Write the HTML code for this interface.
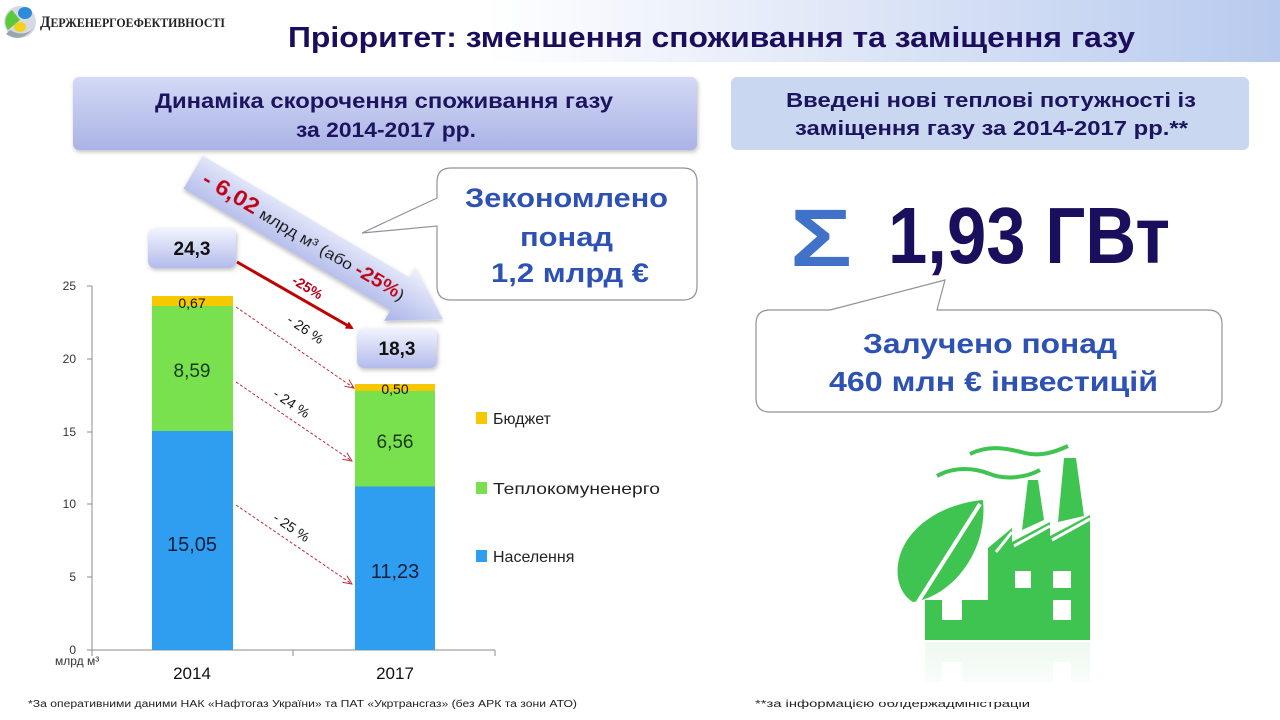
<!DOCTYPE html>
<html><head><meta charset="utf-8"><style>
html,body{margin:0;padding:0;background:#fff;}
svg{display:block;}
text{font-family:"Liberation Sans","DejaVu Sans",sans-serif;}
</style></head><body>
<svg width="1280" height="720" viewBox="0 0 1280 720" xmlns="http://www.w3.org/2000/svg">
<defs>
<linearGradient id="hdr" x1="0" y1="0" x2="1" y2="0">
<stop offset="0" stop-color="#ffffff"/><stop offset="0.38" stop-color="#ffffff"/><stop offset="1" stop-color="#b8caee"/>
</linearGradient>
<linearGradient id="lbox" x1="0" y1="0" x2="0" y2="1">
<stop offset="0" stop-color="#d3d9f5"/><stop offset="1" stop-color="#aab3e6"/>
</linearGradient>
<linearGradient id="vbox" x1="0" y1="0" x2="0" y2="1">
<stop offset="0" stop-color="#f2f4fd"/><stop offset="1" stop-color="#b3bbec"/>
</linearGradient>
<linearGradient id="arr" x1="0" y1="0" x2="0" y2="1">
<stop offset="0" stop-color="#eef1fc"/><stop offset="1" stop-color="#aab3e8"/>
</linearGradient>
<linearGradient id="refl" x1="0" y1="0" x2="0" y2="1">
<stop offset="0" stop-color="#ffffff" stop-opacity="0.55"/><stop offset="1" stop-color="#ffffff" stop-opacity="1"/>
</linearGradient>
<filter id="sh" x="-10%" y="-10%" width="120%" height="130%"><feDropShadow dx="1" dy="2" stdDeviation="2" flood-color="#000" flood-opacity="0.25"/></filter>
<marker id="mr" markerWidth="8" markerHeight="8" refX="6" refY="4" orient="auto" markerUnits="userSpaceOnUse"><path d="M0,0 L8,4 L0,8 z" fill="#c00000"/></marker>
<marker id="md" markerWidth="10" markerHeight="10" refX="9" refY="5" orient="auto" markerUnits="userSpaceOnUse"><path d="M0,1 L9,5 L0,9" fill="none" stroke="#c0303a" stroke-width="1"/></marker>
</defs>

<!-- header band -->
<rect x="0" y="0" width="1280" height="62" fill="url(#hdr)"/>
<!-- logo -->
<circle cx="20" cy="22" r="16" fill="#d5dbe0"/>
<path d="M8,30 A14,14 0 0 1 12,10 L20,20 Z" fill="#5cc83c"/>
<ellipse cx="25" cy="13" rx="7" ry="6" fill="#2f8ad8"/>
<ellipse cx="20" cy="27" rx="6" ry="5" fill="#f2d21a"/>
<path d="M6,34 Q20,44 34,28 Q24,38 10,30 Z" fill="#9aa6ae"/>
<text x="40" y="27" style="font-family:'Liberation Serif','DejaVu Serif',serif;font-weight:bold" fill="#222" font-size="16" textLength="185" lengthAdjust="spacingAndGlyphs">Д<tspan font-size="12.5">ЕРЖЕНЕРГОЕФЕКТИВНОСТІ</tspan></text>

<text x="288" y="47" font-size="29" font-weight="bold" fill="#1b0d5c" textLength="847" lengthAdjust="spacingAndGlyphs">Пріоритет: зменшення споживання та заміщення газу</text>

<!-- left header box -->
<rect x="73" y="77" width="624" height="73" rx="6" fill="url(#lbox)" filter="url(#sh)"/>
<text x="155" y="108" font-size="21" font-weight="bold" fill="#1d1460" textLength="458" lengthAdjust="spacingAndGlyphs">Динаміка скорочення споживання газу</text>
<text x="296" y="137" font-size="21" font-weight="bold" fill="#1d1460" textLength="180" lengthAdjust="spacingAndGlyphs">за 2014-2017  рр.</text>

<!-- right header box -->
<rect x="731" y="77" width="518" height="73" rx="6" fill="#c9d8f0"/>
<text x="786" y="107" font-size="20" font-weight="bold" fill="#1d1460" textLength="410" lengthAdjust="spacingAndGlyphs">Введені нові теплові потужності із</text>
<text x="795" y="135" font-size="20" font-weight="bold" fill="#1d1460" textLength="393" lengthAdjust="spacingAndGlyphs">заміщення газу за 2014-2017  рр.**</text>

<!-- sigma + value -->
<text x="790" y="266" font-size="82" font-weight="bold" fill="#3f72c8" textLength="62" lengthAdjust="spacingAndGlyphs">Σ</text>
<text x="888" y="263" font-size="80" font-weight="bold" fill="#1a0f5c" textLength="282" lengthAdjust="spacingAndGlyphs">1,93 ГВт</text>

<!-- right callout -->
<path d="M770,310 L830,310 L945,280 L937,310 L1208,310 Q1222,310 1222,324 L1222,398 Q1222,412 1208,412 L770,412 Q756,412 756,398 L756,324 Q756,310 770,310 Z" fill="#fff" stroke="#8e939c" stroke-width="1.2"/>
<text x="863" y="353" font-size="28" font-weight="bold" fill="#2d52b3" textLength="254" lengthAdjust="spacingAndGlyphs">Залучено понад</text>
<text x="829" y="391" font-size="28" font-weight="bold" fill="#2d52b3" textLength="329" lengthAdjust="spacingAndGlyphs">460 млн € інвестицій</text>

<!-- left callout -->
<path d="M451,168 L683,168 Q697,168 697,182 L697,286 Q697,300 683,300 L451,300 Q437,300 437,286 L437,226 L362,233 L437,198 L437,182 Q437,168 451,168 Z" fill="#fff" stroke="#8e939c" stroke-width="1.2"/>
<text x="465" y="207" font-size="27" font-weight="bold" fill="#2d52b3" textLength="203" lengthAdjust="spacingAndGlyphs">Зекономлено</text>
<text x="520" y="246" font-size="27" font-weight="bold" fill="#2d52b3" textLength="93" lengthAdjust="spacingAndGlyphs">понад</text>
<text x="491" y="282" font-size="27" font-weight="bold" fill="#2d52b3" textLength="158" lengthAdjust="spacingAndGlyphs">1,2 млрд €</text>

<!-- big diagonal arrow -->
<g transform="translate(400,294) rotate(30.5)" filter="url(#sh)">
<path d="M-240,-19 L0,-19 L0,-31 L50,0 L0,31 L0,19 L-240,19 Z" fill="url(#arr)"/>
<text x="-228" y="6" font-size="16" fill="#111" textLength="232" lengthAdjust="spacingAndGlyphs"><tspan fill="#c00018" font-weight="bold" font-size="22">- 6,02</tspan> млрд м³ (або <tspan fill="#c00018" font-weight="bold" font-size="19">-25%</tspan>)</text>
</g>

<!-- value boxes -->
<rect x="148" y="228" width="88" height="40" rx="7" fill="url(#vbox)" filter="url(#sh)"/>
<text x="192" y="255" font-size="19" font-weight="bold" fill="#111" text-anchor="middle">24,3</text>
<rect x="357" y="328" width="80" height="40" rx="7" fill="url(#vbox)" filter="url(#sh)"/>
<text x="397" y="355" font-size="19" font-weight="bold" fill="#111" text-anchor="middle">18,3</text>

<!-- red solid arrow -->
<line x1="237" y1="262" x2="352" y2="328" stroke="#c00000" stroke-width="3" marker-end="url(#mr)"/>
<text transform="translate(291,283) rotate(31)" font-size="14" font-weight="bold" fill="#c00018">-25%</text>

<!-- axes -->
<line x1="92" y1="286" x2="92" y2="650" stroke="#8c8c8c" stroke-width="1"/>
<g stroke="#8c8c8c" stroke-width="1">
<line x1="87" y1="286" x2="92" y2="286"/><line x1="87" y1="359" x2="92" y2="359"/><line x1="87" y1="432" x2="92" y2="432"/><line x1="87" y1="504" x2="92" y2="504"/><line x1="87" y1="577" x2="92" y2="577"/><line x1="87" y1="650" x2="92" y2="650"/>
<line x1="92" y1="650" x2="495" y2="650"/>
<line x1="92" y1="650" x2="92" y2="656"/><line x1="293" y1="650" x2="293" y2="656"/><line x1="495" y1="650" x2="495" y2="656"/>
</g>
<g font-size="12" fill="#333" text-anchor="end">
<text x="76" y="290">25</text><text x="76" y="363">20</text><text x="76" y="436">15</text><text x="76" y="508">10</text><text x="76" y="581">5</text><text x="76" y="654">0</text>
</g>

<!-- bars -->
<rect x="152" y="431" width="81" height="219" fill="#2f9df0"/>
<rect x="152" y="306" width="81" height="125" fill="#79e04e"/>
<rect x="152" y="296" width="81" height="10" fill="#f5c800"/>
<rect x="355" y="486.5" width="80" height="163.5" fill="#2f9df0"/>
<rect x="355" y="391" width="80" height="95.5" fill="#79e04e"/>
<rect x="355" y="384" width="80" height="7" fill="#f5c800"/>

<g text-anchor="middle" fill="#111">
<text x="192" y="308" font-size="14">0,67</text>
<text x="192" y="377" font-size="19" fill="#1a3a1a">8,59</text>
<text x="192" y="551" font-size="20" fill="#0f1f3a">15,05</text>
<text x="395" y="394" font-size="14">0,50</text>
<text x="395" y="448" font-size="19" fill="#1a3a1a">6,56</text>
<text x="395" y="578" font-size="20" fill="#0f1f3a">11,23</text>
</g>

<!-- dashed arrows -->
<g stroke="#c0303a" stroke-width="1" stroke-dasharray="3,2" fill="none">
<line x1="236" y1="307" x2="354" y2="388" marker-end="url(#md)"/>
<line x1="236" y1="382" x2="352" y2="461" marker-end="url(#md)"/>
<line x1="236" y1="505" x2="352" y2="584" marker-end="url(#md)"/>
</g>
<g font-size="14" fill="#111">
<text transform="translate(286,322) rotate(34)">- 26 %</text>
<text transform="translate(272,396) rotate(34)">- 24 %</text>
<text transform="translate(272,520) rotate(34)">- 25 %</text>
</g>

<!-- legend -->
<rect x="476" y="412" width="11" height="12" fill="#f5c800"/>
<rect x="476" y="482" width="11" height="12" fill="#79e04e"/>
<rect x="476" y="550" width="11" height="12" fill="#2f9df0"/>
<g font-size="16" fill="#222">
<text x="493" y="424">Бюджет</text>
<text x="493" y="494" textLength="167" lengthAdjust="spacingAndGlyphs">Теплокомуненерго</text>
<text x="493" y="562">Населення</text>
</g>

<!-- x labels -->
<text x="55" y="665" font-size="12" fill="#333">млрд м³</text>
<text x="192" y="679" font-size="17" fill="#111" text-anchor="middle">2014</text>
<text x="395" y="679" font-size="17" fill="#111" text-anchor="middle">2017</text>

<!-- footnotes -->
<text x="28" y="707" font-size="10" fill="#222" textLength="549" lengthAdjust="spacingAndGlyphs">*За оперативними даними НАК «Нафтогаз України»  та ПАТ «Укртрансгаз» (без АРК та зони АТО)</text>
<text x="755" y="707" font-size="10" fill="#222" textLength="275" lengthAdjust="spacingAndGlyphs">**за інформацією облдержадміністрацій</text>

<!-- factory icon -->
<g id="fac">
<g fill="#3fc452">
<path d="M925,640 L925,600 L988,600 L988,548 L1012,528 L1012,542 L1050,522 L1050,536 L1090,515 L1090,640 Z"/>
<path d="M1022,530 L1028,480 L1038,480 L1044,520 Z"/>
<path d="M1058,522 L1064,458 L1076,458 L1084,516 Z"/>
<path d="M983,500 C930,505 893,540 898,578 C900,590 906,598 913,602 C952,596 988,552 983,500 Z"/>
</g>
<g fill="#fff">
<rect x="1015" y="571" width="16" height="17"/>
<rect x="1053" y="571" width="18" height="17"/>
<rect x="942" y="600" width="20" height="20"/>
<rect x="1053" y="600" width="18" height="20"/>
</g>
<line x1="980" y1="504" x2="918" y2="602" stroke="#fff" stroke-width="4"/>
<path d="M996,552 L1012,532 M1014,546 L1050,526 M1052,540 L1090,519" stroke="#fff" stroke-width="3" fill="none"/>
<g stroke="#3fc452" stroke-width="4" fill="none">
<path d="M937,476 C955,466 975,468 990,474 S1025,478 1040,470"/>
<path d="M970,454 C990,444 1010,449 1025,453 S1055,452 1068,446"/>
</g>
</g>
<g transform="translate(0,1282) scale(1,-1)" opacity="0.2">
<rect x="925" y="600" width="165" height="40" fill="#3fc452"/>
<rect x="942" y="600" width="20" height="20" fill="#fff"/>
<rect x="1053" y="600" width="18" height="20" fill="#fff"/>
</g>
<rect x="880" y="642" width="230" height="60" fill="url(#refl)"/>
</svg>
</body></html>
